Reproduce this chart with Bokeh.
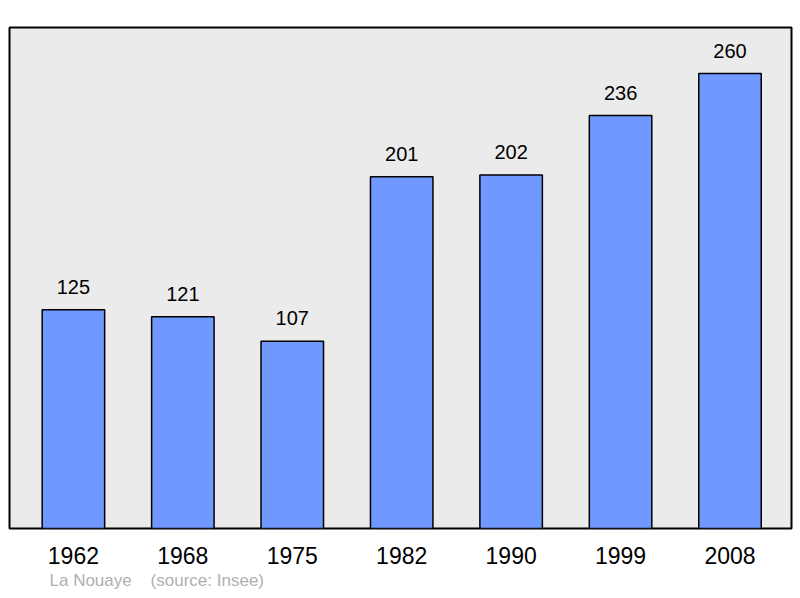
from bokeh.plotting import figure
from bokeh.models import Range1d, Title, ColumnDataSource
from bokeh.embed import file_html
from bokeh.resources import INLINE
from bokeh.core.properties import value

years = ["1962", "1968", "1975", "1982", "1990", "1999", "2008"]
population = [125, 121, 107, 201, 202, 236, 260]
idx = list(range(len(years)))

FONT = "Liberation Sans"

p = figure(width=800, height=598, output_backend="svg", toolbar_location=None,
           x_range=Range1d(-0.584, 6.562), y_range=Range1d(0, 286.3),
           min_border_left=9, min_border_right=9, min_border_top=27, min_border_bottom=70)

p.background_fill_color = "#ebebeb"
p.border_fill_color = "white"
p.outline_line_color = "black"
p.outline_line_width = 2
p.xgrid.visible = False
p.ygrid.visible = False
p.yaxis.visible = False

src = ColumnDataSource(dict(x=idx, top=population, label=[str(v) for v in population]))
p.vbar(x="x", top="top", width=0.571, bottom=0, source=src,
       fill_color="#7099ff", line_color="black", line_width=1.5)
p.text(x="x", y="top", text="label", source=src, y_offset=-23,
       text_align="center", text_baseline="alphabetic",
       text_font=value(FONT), text_font_size="20px", text_color="black")

p.xaxis.ticker = idx
p.xaxis.major_label_overrides = {i: y for i, y in zip(idx, years)}
p.xaxis.axis_line_color = None
p.xaxis.major_tick_line_color = None
p.xaxis.minor_tick_line_color = None
p.xaxis.major_label_standoff = 12
p.xaxis.major_label_text_font = FONT
p.xaxis.major_label_text_font_size = "23px"
p.xaxis.major_label_text_color = "black"

footer = Title(text="La Nouaye\u00a0\u00a0\u00a0\u00a0(source: Insee)", align="left",
               offset=40, standoff=5, text_font=FONT, text_font_size="17px",
               text_font_style="normal", text_color="#b0b0b0")
p.add_layout(footer, "below")

open("out.html", "w").write(file_html(p, INLINE))
